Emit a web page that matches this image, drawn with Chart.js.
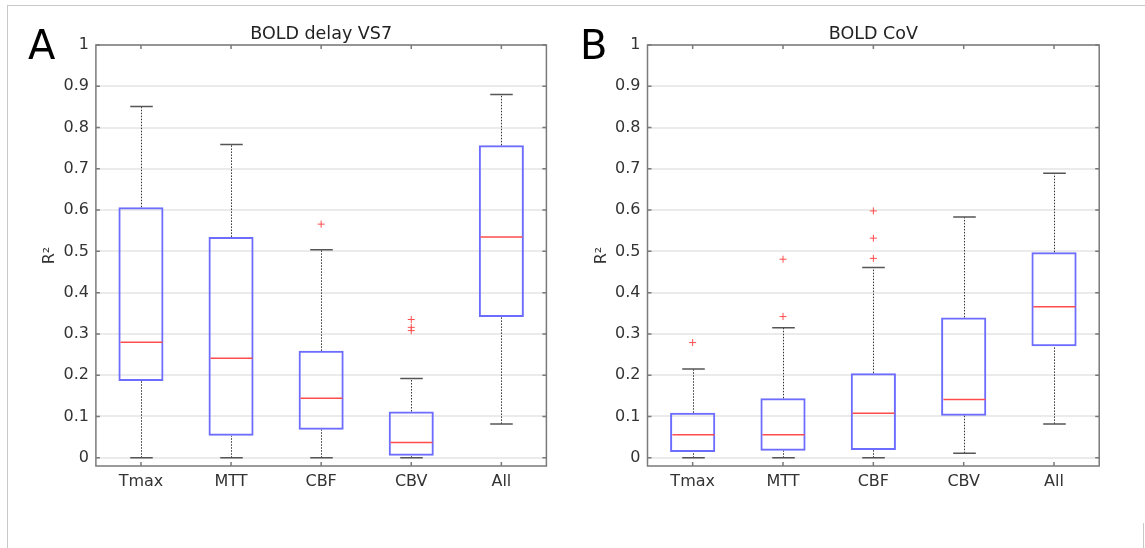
<!DOCTYPE html>
<html>
<head>
<meta charset="utf-8">
<script src="https://cdn.jsdelivr.net/npm/chart.js@4.4.1/dist/chart.umd.min.js"></script>
<style>
  html, body { margin: 0; padding: 0; background: #fff; }
  body { width: 1145px; height: 548px; position: relative; overflow: hidden; font-family: "DejaVu Sans", sans-serif; }
  .frame { position: absolute; left: 7px; top: 5px; width: 1140px; height: 545px; border-top: 1px solid #c8c8c8; border-left: 1px solid #c8c8c8; }
  .edge { position: absolute; left: 1143px; top: 523px; width: 0; height: 30px; border-left: 1px solid #c8c8c8; }
  .panel { position: absolute; top: 0; height: 548px; }
  .letter { position: absolute; font-size: 40px; line-height: 40px; color: #000; }
</style>
</head>
<body>
<div class="frame"></div>
<div class="edge"></div>
<div class="panel" style="left:0;width:560px"><canvas id="chartA" width="560" height="548"></canvas></div>
<div class="panel" style="left:560px;width:585px"><canvas id="chartB" width="585" height="548"></canvas></div>
<div class="letter" style="left:28px;top:25px">A</div>
<div class="letter" style="left:580px;top:25px">B</div>
<script>
// categories and y ticks shared by both panels
const categories = ['Tmax', 'MTT', 'CBF', 'CBV', 'All'];
const yTicks = [0, 0.1, 0.2, 0.3, 0.4, 0.5, 0.6, 0.7, 0.8, 0.9, 1];

// BOLD delay VS7
const delayLow = [0, 0, 0, 0, 0.082];
const delayQ1 = [0.186, 0.053, 0.068, 0.005, 0.341];
const delayMedian = [0.280, 0.241, 0.144, 0.037, 0.535];
const delayQ3 = [0.607, 0.535, 0.259, 0.112, 0.757];
const delayHigh = [0.851, 0.759, 0.504, 0.192, 0.880];
const delayOutliers = [[], [], [0.566], [0.335, 0.316, 0.308], []];

// BOLD CoV
const covLow = [0, 0, 0, 0.011, 0.082];
const covQ1 = [0.014, 0.017, 0.019, 0.102, 0.270];
const covMedian = [0.056, 0.056, 0.108, 0.141, 0.366];
const covQ3 = [0.109, 0.144, 0.205, 0.340, 0.498];
const covHigh = [0.215, 0.315, 0.461, 0.583, 0.689];
const covOutliers = [[0.279], [0.481, 0.342], [0.598, 0.532, 0.483], [], []];

const boxBlue = '#6c6cff';
const medianRed = '#ff4d4d';

// whiskers, caps, medians and the axes box with inner ticks
const boxParts = {
    id: 'boxParts',
    afterDatasetsDraw(chart, args, opts) {
        const ctx = chart.ctx;
        const x = chart.scales.x, y = chart.scales.y;
        const step = x.getPixelForValue(1) - x.getPixelForValue(0);
        ctx.save();
        for (let i = 0; i < categories.length; i++) {
            const cx = Math.round(x.getPixelForValue(i)) + 0.5;
            // dotted whiskers
            ctx.strokeStyle = '#333';
            ctx.lineWidth = 1;
            ctx.setLineDash([1.5, 1.5]);
            ctx.beginPath();
            ctx.moveTo(cx, y.getPixelForValue(opts.q3[i]));
            ctx.lineTo(cx, y.getPixelForValue(opts.high[i]));
            ctx.moveTo(cx, y.getPixelForValue(opts.low[i]));
            ctx.lineTo(cx, y.getPixelForValue(opts.q1[i]));
            ctx.stroke();
            ctx.setLineDash([]);
            // caps
            ctx.strokeStyle = '#555';
            ctx.lineWidth = 1.5;
            ctx.beginPath();
            for (const v of [opts.low[i], opts.high[i]]) {
                const py = y.getPixelForValue(v);
                ctx.moveTo(cx - step / 8, py);
                ctx.lineTo(cx + step / 8, py);
            }
            ctx.stroke();
            // median
            ctx.strokeStyle = medianRed;
            ctx.lineWidth = 1.5;
            const my = y.getPixelForValue(opts.median[i]);
            ctx.beginPath();
            ctx.moveTo(cx - step / 4 + 1.5, my);
            ctx.lineTo(cx + step / 4 - 1.5, my);
            ctx.stroke();
        }
        ctx.restore();
    },
    afterDraw(chart) {
        const ctx = chart.ctx;
        const a = chart.chartArea;
        const x = chart.scales.x, y = chart.scales.y;
        ctx.save();
        ctx.strokeStyle = '#7a7a7a';
        ctx.lineWidth = 1.5;
        ctx.strokeRect(a.left, a.top, a.right - a.left, a.bottom - a.top);
        ctx.beginPath();
        for (let i = 0; i < categories.length; i++) {
            const px = x.getPixelForValue(i);
            ctx.moveTo(px, a.top); ctx.lineTo(px, a.top + 4);
            ctx.moveTo(px, a.bottom); ctx.lineTo(px, a.bottom - 4);
        }
        for (const t of yTicks) {
            const py = y.getPixelForValue(t);
            ctx.moveTo(a.left, py); ctx.lineTo(a.left + 4, py);
            ctx.moveTo(a.right, py); ctx.lineTo(a.right - 4, py);
        }
        ctx.stroke();
        ctx.restore();
    }
};

function makeBoxChart(id, title, low, q1, median, q3, high, outliers, padLeft, padRight) {
    const outlierPoints = [];
    outliers.forEach((list, i) => list.forEach(v => outlierPoints.push({ x: categories[i], y: v })));

    return new Chart(document.getElementById(id), {
        type: 'bar',
        data: {
            labels: categories,
            datasets: [{
                label: 'box',
                data: q1.map((v, i) => [v, q3[i]]),
                backgroundColor: 'rgba(0,0,0,0)',
                borderColor: boxBlue,
                borderWidth: 2,
                borderSkipped: false,
                barPercentage: 0.5,
                categoryPercentage: 1
            }, {
                type: 'line',
                label: 'outliers',
                data: outlierPoints,
                showLine: false,
                pointStyle: 'cross',
                pointRadius: 3.5,
                pointBorderWidth: 1,
                borderColor: medianRed,
                backgroundColor: medianRed
            }]
        },
        options: {
            responsive: false,
            animation: false,
            layout: { padding: { left: padLeft, right: padRight, top: 0, bottom: 0 } },
            plugins: {
                legend: { display: false },
                tooltip: { enabled: false },
                title: {
                    display: true,
                    text: title,
                    fullSize: false,
                    color: '#222',
                    font: { family: 'DejaVu Sans', size: 17.5, weight: 'normal' },
                    padding: { top: 24, bottom: 0 }
                },
                boxParts: { low, q1, median, q3, high }
            },
            scales: {
                x: {
                    offset: true,
                    grid: { display: false, drawTicks: false },
                    border: { display: false },
                    ticks: { color: '#333', padding: 6, font: { family: 'DejaVu Sans', size: 16 } },
                    afterFit(scale) { scale.height = 82; }
                },
                y: {
                    min: -0.02,
                    max: 1,
                    grid: { color: '#ebebeb', lineWidth: 2, drawTicks: false },
                    border: { display: false },
                    afterBuildTicks(scale) { scale.ticks = yTicks.map(v => ({ value: v })); },
                    ticks: {
                        color: '#333',
                        padding: 7,
                        font: { family: 'DejaVu Sans', size: 16 },
                        callback: v => String(Math.round(v * 10) / 10)
                    },
                    title: {
                        display: true,
                        text: 'R²',
                        color: '#333',
                        padding: 0,
                        font: { family: 'DejaVu Sans', size: 16 }
                    },
                    afterFit(scale) { scale.width = 55.5; }
                }
            }
        },
        plugins: [boxParts]
    });
}

makeBoxChart('chartA', 'BOLD delay VS7', delayLow, delayQ1, delayMedian, delayQ3, delayHigh, delayOutliers, 40.4, 13.6);
makeBoxChart('chartB', 'BOLD CoV', covLow, covQ1, covMedian, covQ3, covHigh, covOutliers, 32, 45.8);
</script>
</body>
</html>
